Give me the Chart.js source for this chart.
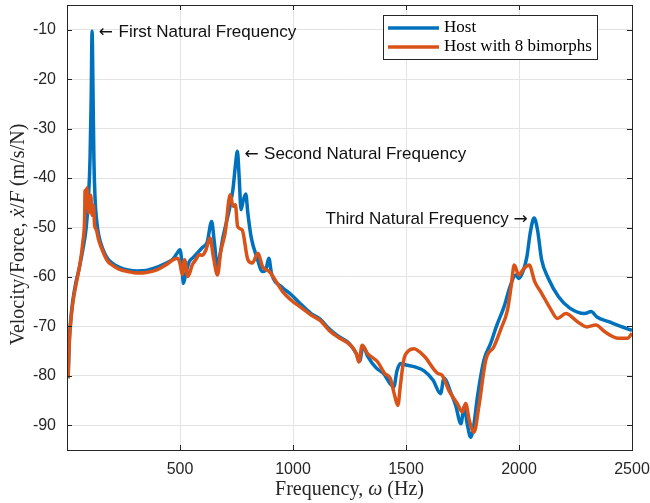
<!DOCTYPE html>
<html>
<head>
<meta charset="utf-8">
<script src="https://cdn.jsdelivr.net/npm/chart.js@4.4.1/dist/chart.umd.min.js"></script>
<style>
  html, body { margin: 0; padding: 0; background: #ffffff; }
  #wrap { width: 650px; height: 503px; }
</style>
</head>
<body>
<div id="wrap"><canvas id="frf" width="650" height="503"></canvas></div>
<script>
// Frequency response of the host structure, with and without 8 bimorphs.
// Frequencies in Hz, magnitudes in dB re 1 (m/s)/N.
const hostFreq = [
  5, 10, 15, 25, 40, 55, 70, 85, 95, 102, 107, 111, 115, 119, 124, 130, 140, 160, 180, 200,
  230, 270, 310, 350, 400, 440, 470, 490, 500, 508, 515, 525, 540, 560, 580, 600, 620, 640, 652, 665,
  675, 690, 705, 720, 735, 745, 754, 762, 770, 780, 791, 800, 815, 840, 865, 880, 893, 905, 950, 990,
  1030, 1080, 1120, 1160, 1200, 1250, 1280, 1295, 1310, 1330, 1370, 1400, 1430, 1446, 1460, 1476, 1500, 1540, 1580, 1620,
  1653, 1668, 1700, 1720, 1743, 1757, 1772, 1786, 1800, 1816, 1845, 1875, 1900, 1934, 1960, 1985, 1999, 2020, 2035, 2050,
  2067, 2082, 2100, 2130, 2175, 2225, 2290, 2319, 2345, 2400, 2450, 2500
];
const hostMag = [
  -80.5, -73, -69.5, -65, -61, -58, -54.5, -50, -44, -36, -24, -10.3, -22, -36, -44, -48, -51.5, -54.5, -56.3, -57.2,
  -58, -58.6, -58.8, -58.7, -58, -57.2, -56.3, -55, -54.5, -57, -61.3, -59.5, -57, -56, -55, -54, -53, -48.8, -53, -57.9,
  -56, -52, -49, -46, -42, -37.5, -34.6, -40, -46.4, -44.5, -43.2, -47, -52, -56, -58.9, -58.5, -56.2, -59.3, -62, -63.5,
  -65.3, -67.4, -68.5, -70.5, -72, -73.5, -75.5, -77, -74, -76, -78.5, -79.5, -81.6, -82.2, -79, -77.5, -77.8, -78.2, -79, -80.9,
  -83.6, -80.5, -83.6, -86, -89.7, -86.3, -90, -92.4, -90, -84.3, -76.8, -73.4, -70, -66, -62, -59.6, -60.3, -58.6, -55.9, -51,
  -48.1, -50.5, -56.5, -60.3, -64, -66.3, -67.4, -67, -68.1, -69.1, -70, -70.8
];

const bimorphFreq = [
  5, 10, 15, 25, 40, 55, 70, 78, 80, 84, 88, 93, 97, 101, 105, 111, 117, 122, 130, 140,
  160, 180, 200, 230, 270, 310, 350, 400, 440, 470, 490, 500, 510, 520, 535, 555, 570, 585, 600, 615,
  633, 648, 666, 680, 700, 722, 735, 745, 755, 775, 800, 820, 845, 865, 895, 955, 1000, 1030, 1080, 1120,
  1160, 1200, 1254, 1280, 1291, 1306, 1330, 1375, 1405, 1430, 1450, 1464, 1475, 1490, 1510, 1535, 1580, 1640, 1660, 1690,
  1727, 1749, 1764, 1780, 1801, 1822, 1853, 1889, 1920, 1949, 1965, 1979, 1999, 2020, 2045, 2070, 2100, 2140, 2170, 2207,
  2260, 2300, 2340, 2380, 2440, 2480, 2500
];
const bimorphMag = [
  -80.5, -73.5, -70, -65.5, -61.5, -58, -53, -48, -42.5, -46, -42, -44.5, -47, -45, -43.5, -47.5, -45.5, -49.5, -50.5, -52.5,
  -55, -56.8, -57.6, -58.4, -58.9, -59.2, -59.1, -58.5, -57.5, -56.5, -56.2, -57.3, -59.5, -56.5, -59.9, -57.5, -56.5, -55.5, -55.6, -54.5,
  -52.1, -56, -59.6, -55, -51, -43.4, -45.7, -45.4, -49.8, -50.5, -56.5, -57.2, -55.2, -57.9, -58.9, -63, -65, -66, -67.7, -68.8,
  -70.8, -72.2, -73.8, -75.5, -77.2, -73.8, -75.5, -77.2, -79.5, -80.5, -84, -86, -82, -76.8, -75, -74.5, -76, -79.5, -79.9, -83,
  -85.6, -87.3, -85.6, -89, -91.4, -86.3, -76.8, -74.1, -70.5, -66.7, -62, -57.6, -59.6, -58.4, -57.6, -61, -63.3, -66.5, -68.4, -67.4,
  -69.1, -70.1, -69.7, -71.1, -72.4, -72.4, -71.4
];

const seriesNames = ['Host', 'Host with 8 bimorphs'];
const freqTicks = [500, 1000, 1500, 2000, 2500];
const magTicks = [-90, -80, -70, -60, -50, -40, -30, -20, -10];

// Peak call-outs: anchor point (Hz, dB), text, arrow side
const noteFreq = [141, 785, 2039];
const noteMag = [-10.6, -35.2, -48.4];
const noteText = ['First Natural Frequency', 'Second Natural Frequency', 'Third Natural Frequency'];
const noteArrow = ['left', 'left', 'right'];

const BLUE = '#0072BD';
const ORANGE = '#D95319';
const AXIS = '#262626';

function toPoints(xs, ys) { return xs.map((x, i) => ({ x: x, y: ys[i] })); }

// Box around the axes with inward ticks on all four sides
const axesBox = {
  id: 'axesBox',
  afterDatasetsDraw(chart) {
    const { ctx, chartArea: a, scales } = chart;
    ctx.save();
    ctx.strokeStyle = AXIS;
    ctx.lineWidth = 1;
    ctx.strokeRect(Math.round(a.left) + 0.5, Math.round(a.top) + 0.5,
                   Math.round(a.right - a.left), Math.round(a.bottom - a.top));
    const L = 5;
    ctx.beginPath();
    freqTicks.forEach(v => {
      const px = Math.round(scales.x.getPixelForValue(v)) + 0.5;
      ctx.moveTo(px, a.bottom); ctx.lineTo(px, a.bottom - L);
      ctx.moveTo(px, a.top); ctx.lineTo(px, a.top + L);
    });
    magTicks.forEach(v => {
      const py = Math.round(scales.y.getPixelForValue(v)) + 0.5;
      ctx.moveTo(a.left, py); ctx.lineTo(a.left + L, py);
      ctx.moveTo(a.right, py); ctx.lineTo(a.right - L, py);
    });
    ctx.stroke();
    ctx.restore();
  }
};

// Draws a run of text pieces, some in italics, starting at x
function drawRich(ctx, parts, size, family, x, y) {
  let cx = x;
  parts.forEach(p => {
    ctx.font = (p.it ? 'italic ' : '') + size + 'px ' + (p.fam || family);
    ctx.fillText(p.t, cx, y);
    cx += ctx.measureText(p.t).width;
  });
}
function richWidth(ctx, parts, size, family) {
  let w = 0;
  parts.forEach(p => {
    ctx.font = (p.it ? 'italic ' : '') + size + 'px ' + (p.fam || family);
    w += ctx.measureText(p.t).width;
  });
  return w;
}

const SERIF = '"Liberation Serif", "DejaVu Serif", serif';
const SANS = '"Liberation Sans", Arial, sans-serif';
const ARROWFONT = '"DejaVu Sans", sans-serif';

const labelsAndNotes = {
  id: 'labelsAndNotes',
  afterDraw(chart) {
    const { ctx, chartArea: a, scales } = chart;
    ctx.save();
    ctx.fillStyle = AXIS;
    ctx.textBaseline = 'middle';
    ctx.textAlign = 'left';

    // x-axis title
    const xParts = [{ t: 'Frequency, ' }, { t: '\u03C9', it: true }, { t: ' (Hz)' }];
    const xs = 20;
    const xw = richWidth(ctx, xParts, xs, SERIF);
    drawRich(ctx, xParts, xs, SERIF, (a.left + a.right) / 2 - xw / 2, 490);

    // y-axis title, rotated
    const yParts = [{ t: 'Velocity/Force, ' }, { t: '\u1E8B', it: true }, { t: '/' }, { t: 'F', it: true }, { t: ' (m/s/N)' }];
    const ys = 20;
    const yw = richWidth(ctx, yParts, ys, SERIF);
    ctx.save();
    ctx.translate(19, (a.top + a.bottom) / 2 + 7);
    ctx.rotate(-Math.PI / 2);
    drawRich(ctx, yParts, ys, SERIF, -yw / 2, 0);
    ctx.restore();

    // peak call-outs with arrows
    ctx.fillStyle = '#111111';
    noteText.forEach((t, i) => {
      const px = scales.x.getPixelForValue(noteFreq[i]);
      const py = scales.y.getPixelForValue(noteMag[i]);
      const parts = noteArrow[i] === 'left'
        ? [{ t: '\u2190 ', fam: ARROWFONT }, { t: t }]
        : [{ t: t + ' ' }, { t: '\u2192', fam: ARROWFONT }];
      const w = richWidth(ctx, parts, 17, SANS);
      drawRich(ctx, parts, 17, SANS, noteArrow[i] === 'left' ? px : px - w, py);
    });

    // legend box
    const bx = 383.5, by = 15.5, bw = 214, bh = 44;
    ctx.fillStyle = '#ffffff';
    ctx.fillRect(bx, by, bw, bh);
    ctx.strokeStyle = AXIS;
    ctx.lineWidth = 1;
    ctx.strokeRect(bx, by, bw, bh);
    const colors = [BLUE, ORANGE];
    const rows = [28, 47];
    seriesNames.forEach((n, i) => {
      ctx.strokeStyle = colors[i];
      ctx.lineWidth = 3.5;
      ctx.beginPath();
      ctx.moveTo(388, rows[i]); ctx.lineTo(439, rows[i]);
      ctx.stroke();
      ctx.fillStyle = '#000000';
      ctx.font = '17px ' + SERIF;
      ctx.fillText(n, 444, rows[i]);
    });
    ctx.restore();
  }
};

new Chart(document.getElementById('frf'), {
  type: 'line',
  data: {
    datasets: [
      {
        label: seriesNames[0],
        data: toPoints(hostFreq, hostMag),
        borderColor: BLUE,
        borderWidth: 3.5,
        pointRadius: 0,
        cubicInterpolationMode: 'monotone',
        order: 2
      },
      {
        label: seriesNames[1],
        data: toPoints(bimorphFreq, bimorphMag),
        borderColor: ORANGE,
        borderWidth: 3.5,
        pointRadius: 0,
        cubicInterpolationMode: 'monotone',
        order: 1
      }
    ]
  },
  options: {
    responsive: false,
    animation: false,
    devicePixelRatio: 1,
    layout: { padding: { left: 0, right: 18, top: 5, bottom: 0 } },
    plugins: { legend: { display: false }, tooltip: { enabled: false } },
    scales: {
      x: {
        type: 'linear',
        min: 0,
        max: 2500,
        afterBuildTicks: s => { s.ticks = freqTicks.map(v => ({ value: v })); },
        afterFit: s => { s.height = 53; s.paddingLeft = 0; s.paddingRight = 0; },
        grid: { color: '#e3e3e3', lineWidth: 1, drawTicks: false },
        border: { display: false },
        ticks: {
          color: AXIS,
          padding: 10,
          maxRotation: 0,
          callback: v => String(v),
          font: { family: SANS, size: 16 }
        }
      },
      y: {
        type: 'linear',
        min: -95,
        max: -5,
        afterBuildTicks: s => { s.ticks = magTicks.map(v => ({ value: v })); },
        afterFit: s => { s.width = 67; s.paddingTop = 0; s.paddingBottom = 0; },
        grid: { color: '#e3e3e3', lineWidth: 1, drawTicks: false },
        border: { display: false },
        ticks: {
          color: AXIS,
          padding: 11,
          callback: v => String(v),
          font: { family: SANS, size: 16 }
        }
      }
    }
  },
  plugins: [axesBox, labelsAndNotes]
});
</script>
</body>
</html>
